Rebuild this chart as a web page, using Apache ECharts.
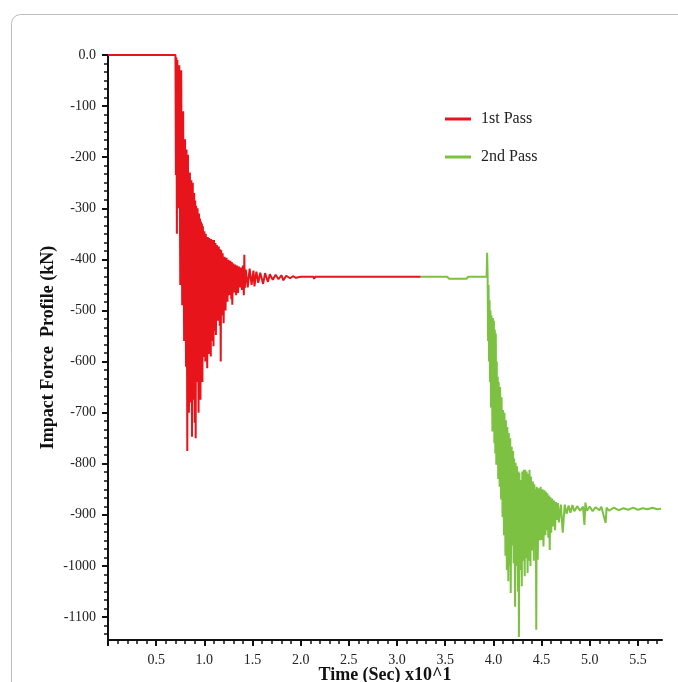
<!DOCTYPE html>
<html>
<head>
<meta charset="utf-8">
<script src="https://cdn.jsdelivr.net/npm/echarts@6/dist/echarts.min.js"></script>
<style>
html,body{margin:0;padding:0;background:#fff;}
#chart{width:678px;height:682px;}
</style>
</head>
<body>
<div id="chart"></div>
<script>
// ---- Data (Time in Sec x10^1, Impact Force in kN) ----
var seriesNames = ['1st Pass', '2nd Pass'];

var redTime = [
  0.000, 0.700, 0.705, 0.710, 0.715, 0.720, 0.730, 0.740, 0.750, 0.760,
  0.770, 0.780, 0.790, 0.800, 0.810, 0.815, 0.823, 0.830, 0.840, 0.850,
  0.860, 0.865, 0.872, 0.880, 0.890, 0.895, 0.900, 0.905, 0.910, 0.915,
  0.920, 0.930, 0.940, 0.945, 0.950, 0.955, 0.960, 0.965, 0.970, 0.975,
  0.980, 0.985, 0.995, 1.000, 1.010, 1.015, 1.030, 1.035, 1.045, 1.050,
  1.067, 1.070, 1.080, 1.085, 1.095, 1.100, 1.110, 1.115, 1.120, 1.130,
  1.140, 1.150, 1.160, 1.165, 1.170, 1.175, 1.180, 1.190, 1.200, 1.210,
  1.220, 1.230, 1.240, 1.250, 1.260, 1.270, 1.280, 1.285, 1.290, 1.300,
  1.310, 1.320, 1.330, 1.340, 1.350, 1.360, 1.370, 1.380, 1.390, 1.400,
  1.410, 1.415, 1.420, 1.430, 1.450, 1.470, 1.490, 1.510, 1.520, 1.540,
  1.560, 1.580, 1.610, 1.630, 1.660, 1.680, 1.710, 1.740, 1.770, 1.800,
  1.820, 1.850, 1.890, 1.920, 1.950, 2.000, 2.130, 2.140, 2.150, 3.245
];
var redForce = [
  0, 0, -235, -5, -350, -10, -300, -20, -450, -30,
  -490, -110, -560, -165, -610, -185, -775, -195, -700, -230,
  -680, -245, -747, -250, -675, -270, -720, -285, -750, -295,
  -640, -300, -700, -310, -665, -320, -675, -326, -600, -330,
  -640, -335, -591, -345, -600, -350, -613, -356, -585, -358,
  -590, -360, -560, -362, -570, -362, -540, -368, -548, -372,
  -520, -375, -530, -380, -600, -382, -510, -388, -525, -395,
  -500, -397, -483, -401, -470, -403, -478, -405, -489, -408,
  -465, -410, -470, -412, -466, -414, -455, -416, -460, -412,
  -470, -391, -456, -420, -455, -418, -450, -422, -453, -424,
  -446, -426, -448, -427, -444, -429, -440, -430, -439, -431,
  -441, -432, -437, -433, -436, -434, -434, -438, -434, -434
];

var greenTime = [
  3.245, 3.520, 3.540, 3.720, 3.740, 3.930, 3.935, 3.940, 3.945, 3.950,
  3.955, 3.960, 3.965, 3.970, 3.975, 3.980, 3.990, 3.995, 4.000, 4.005,
  4.010, 4.015, 4.020, 4.025, 4.030, 4.035, 4.040, 4.045, 4.050, 4.055,
  4.065, 4.070, 4.080, 4.085, 4.095, 4.100, 4.110, 4.115, 4.125, 4.130,
  4.140, 4.145, 4.155, 4.160, 4.170, 4.175, 4.180, 4.190, 4.200, 4.205,
  4.210, 4.215, 4.225, 4.230, 4.240, 4.245, 4.255, 4.260, 4.265, 4.270,
  4.280, 4.285, 4.295, 4.300, 4.310, 4.315, 4.325, 4.330, 4.340, 4.345,
  4.355, 4.360, 4.370, 4.375, 4.385, 4.390, 4.400, 4.410, 4.420, 4.425,
  4.435, 4.440, 4.445, 4.450, 4.460, 4.470, 4.480, 4.490, 4.500, 4.510,
  4.520, 4.530, 4.540, 4.545, 4.555, 4.560, 4.570, 4.575, 4.585, 4.590,
  4.600, 4.610, 4.620, 4.630, 4.640, 4.650, 4.660, 4.670, 4.680, 4.700,
  4.720, 4.740, 4.760, 4.780, 4.800, 4.820, 4.840, 4.870, 4.900, 4.930,
  4.945, 4.955, 4.970, 5.000, 5.030, 5.060, 5.100, 5.120, 5.165, 5.175,
  5.200, 5.250, 5.300, 5.350, 5.400, 5.450, 5.500, 5.550, 5.600, 5.650,
  5.700, 5.740
];
var greenForce = [
  -434, -434, -438, -438, -434, -434, -387, -430, -560, -450,
  -600, -480, -640, -500, -690, -510, -737, -515, -700, -520,
  -760, -538, -780, -545, -802, -600, -790, -630, -830, -640,
  -845, -650, -870, -670, -904, -695, -940, -700, -980, -715,
  -1008, -728, -1030, -740, -1000, -750, -1053, -767, -960, -775,
  -995, -790, -1080, -798, -1000, -805, -1050, -815, -1139, -818,
  -1008, -832, -1040, -815, -990, -812, -1020, -812, -985, -815,
  -1014, -820, -990, -812, -1000, -825, -970, -835, -990, -840,
  -960, -850, -1125, -845, -988, -848, -950, -845, -949, -850,
  -962, -852, -940, -855, -930, -858, -945, -862, -969, -865,
  -935, -868, -923, -872, -930, -875, -910, -877, -915, -880,
  -935, -880, -898, -882, -896, -881, -893, -883, -892, -884,
  -920, -876, -892, -884, -893, -885, -891, -884, -916, -886,
  -892, -886, -891, -887, -890, -886, -890, -887, -889, -886,
  -889, -888
];

// Axis ticks / labels
var xMin = 0, xMax = 5.75;
var yMin = -1145, yMax = 0;
var xTickLabels = [0.5, 1.0, 1.5, 2.0, 2.5, 3.0, 3.5, 4.0, 4.5, 5.0, 5.5];
var xMajorTicks = [0, 0.5, 1.0, 1.5, 2.0, 2.5, 3.0, 3.5, 4.0, 4.5, 5.0, 5.5];
var yTickLabels = [0, -100, -200, -300, -400, -500, -600, -700, -800, -900, -1000, -1100];

// minor tick positions (5 per 0.5 on x, 6 per 100 on y)
var xMinorTicks = [];
for (var i = 0; i <= 57; i++) { if (i % 5 !== 0) xMinorTicks.push(+(i * 0.1).toFixed(2)); }
var yMinorTicks = [];
for (var j = 1; j <= 68; j++) { if (j % 6 !== 0) yMinorTicks.push(-j * 100 / 6); }

function zip(t, v) { return t.map(function (x, k) { return [x, v[k]]; }); }

var serif = '"Liberation Serif", "DejaVu Serif", serif';
var RED = '#e8141b', GREEN = '#7cc142';

var chart = echarts.init(document.getElementById('chart'), null, {renderer: 'canvas'});
var option = {
  animation: false,
  backgroundColor: '#fff',
  graphic: [{
    type: 'rect',
    shape: {x: 11.5, y: 14.5, width: 720, height: 720, r: 9},
    style: {fill: 'none', stroke: '#bdbdbd', lineWidth: 1},
    silent: true, z: -10
  }],
  grid: {left: 108, top: 55, right: 16, bottom: 42, containLabel: false, outerBoundsMode: 'none'},
  legend: {
    data: seriesNames,
    orient: 'vertical',
    left: 445, top: 110,
    padding: 0,
    icon: 'rect',
    itemWidth: 26, itemHeight: 3,
    itemGap: 20,
    textStyle: {fontFamily: serif, fontSize: 16, color: '#222', padding: [0, 0, 0, 5], lineHeight: 18}
  },
  xAxis: [{
    type: 'value', min: xMin, max: xMax,
    name: 'Time (Sec) x10^1',
    nameLocation: 'middle', nameGap: 26, nameMoveOverlap: false,
    nameTextStyle: {fontFamily: serif, fontSize: 18, fontWeight: 'bold', color: '#111'},
    axisLine: {show: true, onZero: false, lineStyle: {color: '#111', width: 2}},
    axisTick: {show: true, customValues: xMajorTicks, length: 6, lineStyle: {color: '#111', width: 2}},
    axisLabel: {customValues: xTickLabels, margin: 13, fontFamily: serif, fontSize: 14, color: '#222',
      formatter: function (v) { return v.toFixed(1); }},
    splitLine: {show: false}
  }, {
    type: 'value', min: xMin, max: xMax, position: 'bottom',
    axisLine: {show: false, onZero: false},
    axisTick: {show: true, customValues: xMinorTicks, length: 4, lineStyle: {color: '#111', width: 1.5}},
    axisLabel: {show: false},
    splitLine: {show: false}
  }],
  yAxis: [{
    type: 'value', min: yMin, max: yMax,
    name: 'Impact Force  Profile (kN)',
    nameLocation: 'middle', nameGap: 51, nameMoveOverlap: false,
    nameTextStyle: {fontFamily: serif, fontSize: 18, fontWeight: 'bold', color: '#111'},
    axisLine: {show: true, onZero: false, lineStyle: {color: '#111', width: 2}},
    axisTick: {show: true, customValues: yTickLabels, length: 6, lineStyle: {color: '#111', width: 2}},
    axisLabel: {customValues: yTickLabels, margin: 12, fontFamily: serif, fontSize: 14, color: '#222',
      formatter: function (v) { return v === 0 ? '0.0' : String(v); }},
    splitLine: {show: false}
  }, {
    type: 'value', min: yMin, max: yMax, position: 'left', offset: 0,
    axisLine: {show: false, onZero: false},
    axisTick: {show: true, customValues: yMinorTicks, length: 4, lineStyle: {color: '#111', width: 1.5}},
    axisLabel: {show: false},
    splitLine: {show: false}
  }],
  series: [{
    name: seriesNames[0], type: 'line',
    xAxisIndex: 0, yAxisIndex: 0,
    data: zip(redTime, redForce),
    showSymbol: false, symbol: 'none', sampling: null,
    lineStyle: {color: RED, width: 2},
    itemStyle: {color: RED},
    z: 3
  }, {
    name: seriesNames[1], type: 'line',
    xAxisIndex: 0, yAxisIndex: 0,
    data: zip(greenTime, greenForce),
    showSymbol: false, symbol: 'none', sampling: null,
    lineStyle: {color: GREEN, width: 2},
    itemStyle: {color: GREEN},
    z: 2
  }]
};
chart.setOption(option);
</script>
</body>
</html>
